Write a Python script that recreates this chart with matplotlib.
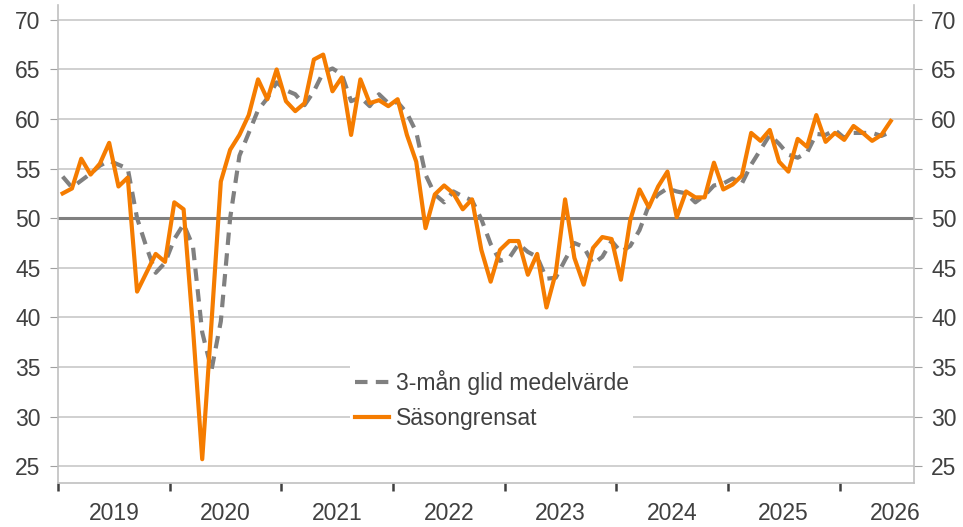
import matplotlib.pyplot as plt
import numpy as np

plt.rcParams['font.family'] = ['Liberation Sans', 'DejaVu Sans']

# monthly values, Jan 2019 onwards
sasong = [52.5, 53.0, 56.0, 54.4, 55.5, 57.6, 53.2, 54.1, 42.6, 44.5, 46.4, 45.6,
          51.6, 50.9, 39.0, 25.7, 39.5, 53.7, 56.9, 58.4, 60.4, 64.0, 62.0, 65.0,
          61.8, 60.8, 61.6, 66.0, 66.5, 62.8, 64.2, 58.4, 64.0, 61.6, 61.9, 61.3,
          62.0, 58.4, 55.7, 49.0, 52.4, 53.3, 52.5, 50.9, 51.9, 46.8, 43.6, 46.8,
          47.7, 47.7, 44.3, 46.4, 41.0, 44.5, 51.9, 46.0, 43.3, 47.0, 48.1, 47.9,
          43.8, 49.8, 52.9, 51.1, 53.2, 54.7, 50.1, 52.7, 52.1, 52.1, 55.6, 52.9,
          53.4, 54.3, 58.6, 57.8, 58.9, 55.7, 54.7, 58.0, 57.2, 60.4, 57.7, 58.6,
          57.9, 59.3, 58.6, 57.8, 58.4, 59.8]

glid = [54.2, 53.1, 53.8, 54.5, 55.3, 55.8, 55.4, 55.0, 50.0, 47.1, 44.5, 45.5,
        47.9, 49.4, 47.2, 38.5, 34.7, 39.6, 50.0, 56.3, 58.6, 60.9, 62.1, 63.7,
        62.9, 62.5, 61.4, 62.8, 64.7, 65.1, 64.5, 61.8, 62.2, 61.3, 62.5, 61.6,
        61.7, 60.6, 58.7, 54.4, 52.4, 51.6, 52.7, 52.2, 51.8, 49.9, 47.4, 45.7,
        46.0, 47.4, 46.6, 46.1, 43.9, 44.0, 45.8, 47.5, 47.1, 45.4, 46.1, 47.7,
        46.6, 47.2, 48.8, 51.3, 52.4, 53.0, 52.7, 52.5, 51.6, 52.3, 53.3, 53.5,
        54.0, 53.5, 55.4, 56.9, 58.4, 57.5, 56.4, 56.1, 56.6, 58.5, 58.4, 58.9,
        58.1, 58.6, 58.6, 58.6, 58.3, 58.7]

years = ['2019', '2020', '2021', '2022', '2023', '2024', '2025', '2026']

txt = '#404040'
fig = plt.figure(figsize=(9.63, 5.27), dpi=100)
ax = fig.add_axes([58/963, 1-483/527, (914-58)/963, (483-5)/527])

x = np.arange(len(sasong)) + 0.5
ax.plot(x, glid, color='#808080', lw=3, dashes=(3, 2), label='3-mån glid medelvärde', zorder=3)
ax.plot(x, sasong, color='#f57c00', lw=3, label='Säsongrensat', zorder=4)

ax.set_xlim(0, 92)
ax.set_ylim(23.3, 71.5)
ax.set_yticks(np.arange(25, 71, 5))
ax.yaxis.grid(True, color='#c8c8c8', lw=1.2)
ax.set_axisbelow(True)
ax.axhline(50, color='#808080', lw=2.2, zorder=2)

ax.set_xticks(np.arange(0, 85, 12))
ax.set_xticklabels([])
ax.set_xticks(np.arange(6, 92, 12), minor=True)
ax.set_xticklabels(years, minor=True)
ax.tick_params(axis='x', which='major', length=6, width=1.8, color=txt, direction='out')
ax.tick_params(axis='x', which='minor', length=0, pad=14, labelsize=16.5, labelcolor=txt)
ax.tick_params(axis='y', left=True, right=True, labelleft=True, labelright=True,
               length=5.5, color='#a0a0a0', pad=7, labelsize=16.5, labelcolor=txt)
for lab in ax.get_yticklabels(which='major'):
    pass
ax.yaxis.set_tick_params(which='major', pad=7)

for s in ['left', 'right', 'bottom']:
    ax.spines[s].set_color('#c0c0c0')
    ax.spines[s].set_linewidth(1.2)
ax.spines['top'].set_visible(False)

leg = ax.legend(loc='upper left', bbox_to_anchor=(350/963, 1-365/527),
                bbox_transform=fig.transFigure, fontsize=16.5, frameon=True,
                fancybox=False, edgecolor='none', facecolor='white', framealpha=1,
                handlelength=1.5, handletextpad=0.3, labelspacing=0.55,
                borderpad=0.2, borderaxespad=0)
for t in leg.get_texts():
    t.set_color(txt)

fig.savefig('out.png', dpi=100)
